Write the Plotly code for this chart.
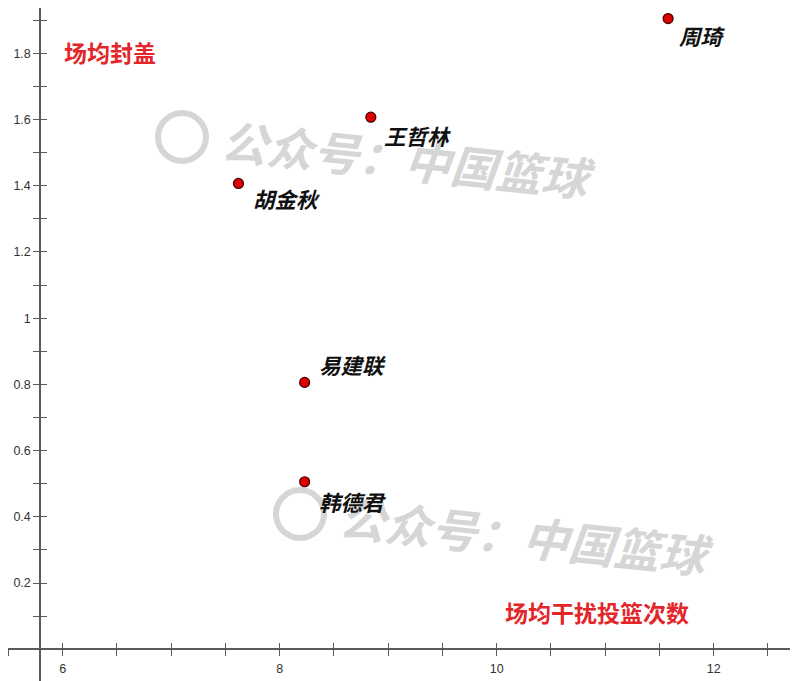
import plotly.graph_objects as go

# ---- data ----
players = ["周琦", "王哲林", "胡金秋", "易建联", "韩德君"]
interference = [11.58, 8.84, 7.62, 8.23, 8.23]   # 场均干扰投篮次数
blocks = [1.905, 1.607, 1.407, 0.806, 0.506]     # 场均封盖

x_tick_vals = [5.5, 6, 6.5, 7, 7.5, 8, 8.5, 9, 9.5, 10, 10.5, 11, 11.5, 12, 12.5]
x_tick_text = ["", "6", "", "", "", "8", "", "", "", "10", "", "", "", "12", ""]
y_tick_vals = [0, 0.1, 0.2, 0.3, 0.4, 0.5, 0.6, 0.7, 0.8, 0.9, 1.0, 1.1, 1.2, 1.3, 1.4, 1.5, 1.6, 1.7, 1.8, 1.9]
y_tick_text = ["", "", "0.2", "", "0.4", "", "0.6", "", "0.8", "", "1", "", "1.2", "", "1.4", "", "1.6", "", "1.8", ""]

x_title = "场均干扰投篮次数"
y_title = "场均封盖"
watermark = "公众号：中国篮球"

# ---- layout constants ----
# the page body has an 8px margin, so the figure is drawn at (8, 8) in the window
OFF = 8
W, H = 798 - OFF, 681 - OFF
PX_PER_X = 108.5
PX_PER_Y = 331.1
X6_PX, Y18_PX = 62.7, 53.3            # window pixel of x=6 and y=1.8
XR = [6 + (OFF - X6_PX) / PX_PER_X, 6 + (798 - X6_PX) / PX_PER_X]
YR = [1.8 - (681 - Y18_PX) / PX_PER_Y, 1.8 + (Y18_PX - OFF) / PX_PER_Y]
X_AXIS_AT = 5.791   # where the y-axis line sits
Y_AXIS_AT = 0.0
ypos = (Y_AXIS_AT - YR[0]) / (YR[1] - YR[0])
xpos = (X_AXIS_AT - XR[0]) / (XR[1] - XR[0])


def px(x):
    return (x - OFF) / W


def py(y):
    return 1 - (y - OFF) / H


axis_color = "#5a5a5a"
tick_font = dict(family="Liberation Sans, Arial", size=12.5, color="#333333")

fig = go.Figure()

# watermarks (drawn first, beneath labels)
for (icx, icy, tcx, tcy) in [(182, 137, 408, 158), (300, 514, 526, 535)]:
    fig.add_annotation(x=px(tcx), y=py(tcy), xref="paper", yref="paper",
                       xanchor="center", yanchor="middle",
                       text=f"<b><i>{watermark}</i></b>", showarrow=False, textangle=6,
                       font=dict(family="Noto Sans CJK SC", size=46, color="#d6d6d6"))
    r = 24
    fig.add_shape(type="circle", xref="paper", yref="paper",
                  x0=px(icx - r), x1=px(icx + r), y0=py(icy + r), y1=py(icy - r),
                  line=dict(color="#d6d6d6", width=6), layer="below")

fig.add_trace(go.Scatter(
    x=interference, y=blocks, mode="markers",
    marker=dict(size=10, color="#dd0000", line=dict(color="#4a0000", width=1.2)),
    hoverinfo="text", text=players, showlegend=False,
))
# dummy trace for overlay axes (inside ticks)
fig.add_trace(go.Scatter(x=[], y=[], xaxis="x2", yaxis="y2", showlegend=False))

# label offsets (pixels) relative to each point
label_offsets = [(34, -17), (47, -18), (48, -15), (48, 18), (48, -20)]
for name, xv, yv, (dx, dy) in zip(players, interference, blocks, label_offsets):
    fig.add_annotation(
        x=xv, y=yv, xref="x", yref="y", text=f"<b><i>{name}</i></b>",
        showarrow=False, xshift=dx, yshift=dy, xanchor="center", yanchor="middle",
        font=dict(family="Noto Sans CJK SC", size=21.5, color="#111111"),
    )

# axis titles (red text)
fig.add_annotation(x=px(110), y=py(52), xref="paper", yref="paper",
                   xanchor="center", yanchor="middle",
                   text=f"<b>{y_title}</b>", showarrow=False,
                   font=dict(family="Noto Sans CJK SC", size=23, color="#e3262a"))
fig.add_annotation(x=px(597), y=py(612), xref="paper", yref="paper",
                   xanchor="center", yanchor="middle",
                   text=f"<b>{x_title}</b>", showarrow=False,
                   font=dict(family="Noto Sans CJK SC", size=23, color="#e3262a"))

common_x = dict(range=XR, anchor="free", position=ypos, tickmode="array",
                tickvals=x_tick_vals, showgrid=False, zeroline=False,
                tickcolor=axis_color, tickwidth=1.2, ticklen=6)
common_y = dict(range=YR, anchor="free", position=xpos, tickmode="array",
                tickvals=y_tick_vals, showgrid=False, zeroline=False,
                tickcolor=axis_color, tickwidth=1.2, ticklen=6)

fig.update_layout(
    width=W, height=H,
    margin=dict(l=0, r=0, t=0, b=0),
    paper_bgcolor="white", plot_bgcolor="white",
    xaxis=dict(**common_x, ticktext=x_tick_text, ticks="outside", showline=True,
               linecolor=axis_color, linewidth=1.5, tickfont=tick_font, ticklabelstandoff=2),
    yaxis=dict(**common_y, ticktext=y_tick_text, ticks="outside", showline=True,
               linecolor=axis_color, linewidth=1.5, tickfont=tick_font),
    xaxis2=dict(**common_x, overlaying="x", ticks="inside", showticklabels=False, showline=False),
    yaxis2=dict(**common_y, overlaying="y", ticks="inside", showticklabels=False, showline=False),
)

fig.write_html("out.html")
